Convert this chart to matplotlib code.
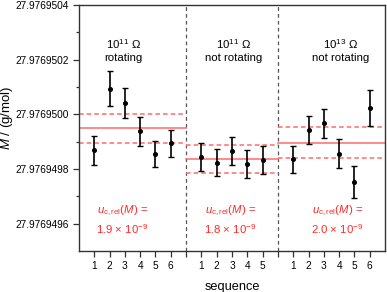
import numpy as np
import matplotlib
matplotlib.use('Agg')
import matplotlib.pyplot as plt
from matplotlib.ticker import MultipleLocator, FuncFormatter

# ── Data (offsets in units of 1e-7 g/mol from BASE) ────────────────────────────
BASE = 27.9769500
x_pos = [1, 2, 3, 4, 5, 6, 8, 9, 10, 11, 12, 14, 15, 16, 17, 18, 19]
m_off = [-1.32, 0.94, 0.40, -0.62, -1.46, -1.06,
         -1.57, -1.77, -1.34, -1.81, -1.67,
         -1.65, -0.59, -0.33, -1.44, -2.49, 0.23]
m_err = [0.52, 0.65, 0.55, 0.53, 0.48, 0.49,
         0.50, 0.48, 0.51, 0.51, 0.50,
         0.50, 0.51, 0.54, 0.52, 0.58, 0.65]
tick_pos = [1, 2, 3, 4, 5, 6, 7, 8, 9, 10, 11, 12, 13, 14, 15, 16, 17, 18, 19]
tick_lab = ['1', '2', '3', '4', '5', '6', '', '1', '2', '3', '4', '5', '',
            '1', '2', '3', '4', '5', '6']
dividers = [7, 13]
grp_span = [(0, 7), (7, 13), (13, 20)]
grp_mean = [-0.52, -1.635, -1.04]
grp_unc = [0.53, 0.50, 0.56]
grp_title = ['10$^{11}$ Ω\nrotating', '10$^{11}$ Ω\nnot rotating', '10$^{13}$ Ω\nnot rotating']
grp_title_x = [2.93, 10.1, 17.1]
grp_urel = ['1.9', '1.8', '2.0']
grp_urel_x = [2.85, 9.9, 16.9]

plt.rcParams['font.family'] = ['Liberation Sans', 'DejaVu Sans']
plt.rcParams['mathtext.fontset'] = 'custom'
plt.rcParams['mathtext.rm'] = 'Liberation Sans'
plt.rcParams['mathtext.it'] = 'Liberation Sans:italic'

RED_LINE = '#ff6b6b'
RED_TEXT = '#ff2a2a'
SPINE = '#333333'

fig = plt.figure(figsize=(3.87, 2.92), dpi=100)
ax = fig.add_axes([0.204, 0.141, 0.791, 0.842])

y = BASE + np.array(m_off) * 1e-7
yerr = np.array(m_err) * 1e-7
ax.errorbar(x_pos, y, yerr=yerr, fmt='o', color='black', ms=2.6,
            elinewidth=1.2, capsize=2.2, capthick=1.0, zorder=3)

for (x0, x1), mu, u in zip(grp_span, grp_mean, grp_unc):
    ym = BASE + mu * 1e-7
    ax.plot([x0, x1], [ym, ym], color=RED_LINE, lw=1.1, zorder=2)
    for s in (-1, 1):
        ax.plot([x0, x1], [ym + s * u * 1e-7] * 2, color=RED_LINE, lw=1.1,
                ls=(0, (3, 2)), zorder=2)

for xd in dividers:
    ax.axvline(xd, color='#555555', lw=0.9, ls=(0, (3, 2.5)), zorder=1)

yt = BASE + 2.35e-7
for xt, t in zip(grp_title_x, grp_title):
    ax.text(xt, yt, t, ha='center', va='center', fontsize=8.2, linespacing=1.25)

for xt, v in zip(grp_urel_x, grp_urel):
    ax.text(xt, BASE - 3.55e-7, '$u_{\\mathrm{c,rel}}(M)$ =', ha='center', va='center',
            fontsize=8.2, color=RED_TEXT)
    ax.text(xt, BASE - 4.2e-7, f'{v} × 10$^{{-9}}$', ha='center', va='center',
            fontsize=8.2, color=RED_TEXT)

ax.set_xlim(0, 20)
ax.set_ylim(BASE - 5e-7, BASE + 4e-7)
ax.set_xticks(tick_pos)
ax.set_xticklabels(tick_lab)
ax.yaxis.set_major_locator(MultipleLocator(2e-7))
ax.yaxis.set_minor_locator(MultipleLocator(1e-7))
ax.yaxis.set_major_formatter(FuncFormatter(lambda v, p: f'{v:.7f}'))
ax.tick_params(axis='both', labelsize=7.3, direction='out', color=SPINE,
               width=0.9, length=4, pad=3.3)
ax.tick_params(axis='y', which='minor', direction='out', color=SPINE,
               width=0.9, length=2.2)
for sp in ax.spines.values():
    sp.set_color(SPINE)
    sp.set_linewidth(1.0)

# y label placed by hand in figure pixels, as in the reference
fig.text(7.5 / 387, 1 - 117.5 / 292, '$M$ / (g/mol)', rotation=90,
         ha='center', va='center', fontsize=9.5)
ax.set_xlabel('sequence', fontsize=9.2, labelpad=7)

fig.savefig('out.png', dpi=100)
